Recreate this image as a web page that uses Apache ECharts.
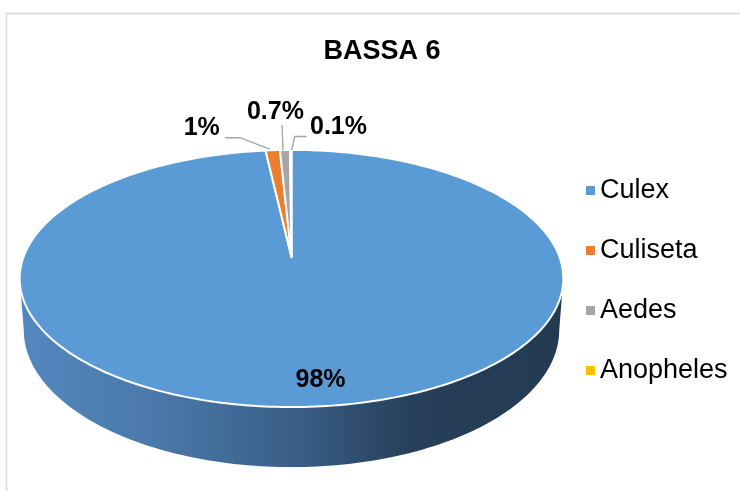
<!DOCTYPE html>
<html>
<head>
<meta charset="utf-8">
<script src="https://cdn.jsdelivr.net/npm/echarts@6/dist/echarts.min.js"></script>
<style>
  html, body { margin: 0; padding: 0; background: #fff; }
  #chart { width: 740px; height: 491px; }
</style>
</head>
<body>
<div id="chart"></div>
<script>
// Mosquito genera share, site BASSA 6 (percent)
const chartTitle = 'BASSA 6';
const categories = ['Culex', 'Culiseta', 'Aedes', 'Anopheles'];
const shares = [98, 1, 0.7, 0.1];
const palette = ['#5b9bd5', '#ed7d31', '#a5a5a5', '#ffc000'];

// Tilted disc seen in perspective: centre, radii, perspective factor, wall height
const disc = { cx: 291.5, cy: 257, rx: 268, ry: 125, k: 0.167, depth: 50, baseScale: 0.985 };

// Label placement: inside labels sit at a radius fraction along the mid angle;
// outside labels are offset from the slice's rim midpoint with a bent leader.
const labelLayout = [
  { inside: true, r: 0.85, dx: 14, dy: 0 },
  { leader: [[-3, -1], [-32.7, -12.5], [-47.7, -12.5]], text: [-71, -22] },
  { leader: [[-2, 0], [-3, -25]], text: [-9.6, -38] },
  { leader: [[0.9, 0], [4, -13.4], [16, -13.4]], text: [47.7, -23] }
];

const FONT = '"Liberation Sans", Arial, Helvetica, sans-serif';
const total = shares.reduce((a, b) => a + b, 0);

function project(u, v, drop, hScale) {
  const w = 1 / (1 - disc.k * v);
  return [disc.cx + disc.rx * hScale * u * w, disc.cy + disc.ry * v * w + drop * w];
}
// angle measured clockwise from the back of the disc
function rim(theta, r, drop, hScale) {
  const u = Math.sin(theta) * r, v = -Math.cos(theta) * r;
  return project(u, v, drop || 0, hScale || 1);
}
function arcPoints(a0, a1, drop, hScale) {
  const n = Math.max(2, Math.ceil(Math.abs(a1 - a0) / (Math.PI / 180)));
  const pts = [];
  for (let i = 0; i <= n; i++) pts.push(rim(a0 + (a1 - a0) * i / n, 1, drop, hScale));
  return pts;
}

const wallGradient = new echarts.graphic.LinearGradient(20, 0, 563, 0, [
  { offset: 0, color: '#5388bf' },
  { offset: 0.25, color: '#4a78a9' },
  { offset: 0.5, color: '#3a6089' },
  { offset: 0.72, color: '#273f5a' },
  { offset: 1, color: '#233a52' }
], true);

function renderSlice(params, api) {
  const idx = params.seriesIndex;
  const value = api.value(0);
  let before = 0;
  for (let i = 0; i < idx; i++) before += shares[i];
  const a0 = before / total * Math.PI * 2;
  const a1 = (before + value) / total * Math.PI * 2;
  const children = [];

  // front wall, only the part facing the viewer
  const vis0 = Math.acos(-disc.k), vis1 = Math.PI * 2 - vis0;
  const w0 = Math.max(a0, vis0), w1 = Math.min(a1, vis1);
  if (w1 > w0) {
    const top = arcPoints(w0, w1, 0, 1);
    const bottom = arcPoints(w0, w1, disc.depth, disc.baseScale).reverse();
    children.push({
      type: 'polygon',
      shape: { points: top.concat(bottom) },
      style: { fill: idx === 0 ? wallGradient : palette[idx], stroke: null }
    });
  }

  // top face sector
  const apex = project(0, 0, 0, 1);
  children.push({
    type: 'polygon',
    shape: { points: [apex].concat(arcPoints(a0, a1, 0, 1)) },
    style: { fill: palette[idx], stroke: '#ffffff', lineWidth: 2, lineJoin: 'round' }
  });

  // value label
  const mid = (a0 + a1) / 2;
  const lay = labelLayout[idx];
  const labelText = value + '%';
  let tx, ty;
  if (lay.inside) {
    const p = rim(mid, lay.r, 0, 1);
    tx = p[0] + lay.dx; ty = p[1] + lay.dy;
  } else {
    const m = rim(mid, 1, 0, 1);
    children.push({
      type: 'polyline',
      shape: { points: lay.leader.map(d => [m[0] + d[0], m[1] + d[1]]) },
      style: { stroke: '#a6a6a6', lineWidth: 1.4, fill: null }
    });
    tx = m[0] + lay.text[0]; ty = m[1] + lay.text[1];
  }
  children.push({
    type: 'text',
    style: {
      x: tx, y: ty, text: labelText, fill: '#000',
      font: 'bold 25px ' + FONT,
      textAlign: 'center', textVerticalAlign: 'middle',
      align: 'center', verticalAlign: 'middle'
    }
  });
  return { type: 'group', children: children };
}

const chart = echarts.init(document.getElementById('chart'), null, { renderer: 'canvas' });
chart.setOption({
  animation: false,
  color: palette,
  graphic: [
    {
      type: 'rect', silent: true, z: -10,
      shape: { x: 6.5, y: 13.5, width: 780, height: 600 },
      style: { fill: '#fff', stroke: '#d9d9d9', lineWidth: 1.5 }
    },
    {
      type: 'text', z: 10,
      style: {
        x: 382, y: 52, text: chartTitle, fill: '#000',
        font: 'bold 27px ' + FONT,
        textAlign: 'center', textVerticalAlign: 'middle',
        align: 'center', verticalAlign: 'middle'
      }
    }
  ],
  legend: {
    orient: 'vertical',
    left: 581,
    top: 172,
    icon: 'rect',
    itemWidth: 9,
    itemHeight: 9,
    itemGap: 33,
    selectedMode: false,
    textStyle: { fontSize: 27, color: '#000', fontFamily: FONT },
    data: categories
  },
  series: categories.map((name, i) => ({
    type: 'custom',
    name: name,
    coordinateSystem: 'none',
    itemStyle: { color: palette[i] },
    renderItem: renderSlice,
    data: [[shares[i]]]
  }))
});
</script>
</body>
</html>
